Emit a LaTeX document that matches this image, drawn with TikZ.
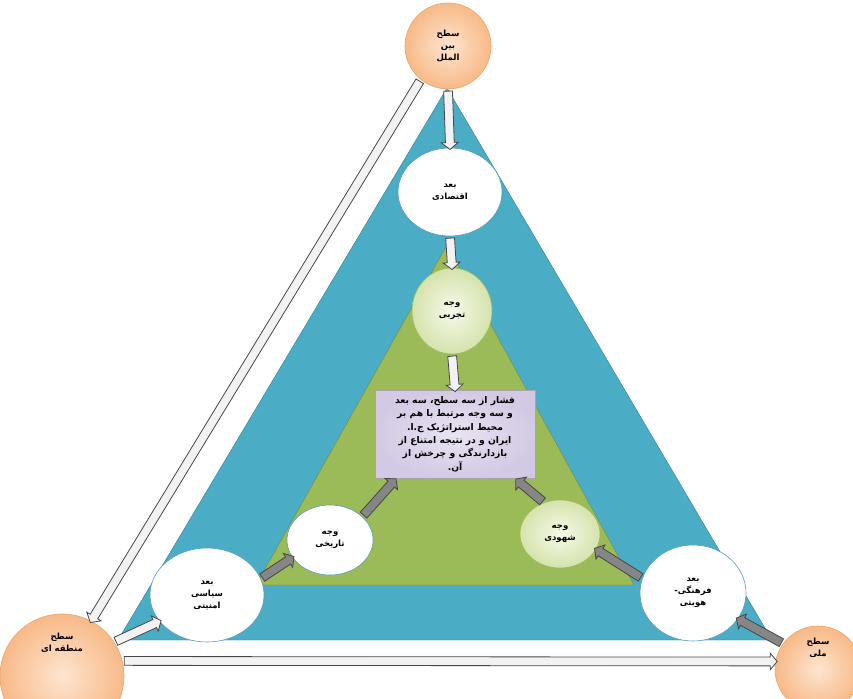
\documentclass[tikz,border=0pt]{standalone}
\usepackage{fontspec}
\newfontfamily\arabicfont[Script=Arabic]{DejaVu Sans}
\TeXXeTstate=1
\usetikzlibrary{shapes.geometric, shapes.arrows, calc}

\definecolor{bandblue}{HTML}{4BACC6}
\definecolor{bandblueline}{HTML}{2E7F95}
\definecolor{bandgreen}{HTML}{9BBB59}
\definecolor{bandgreenline}{HTML}{71893F}
\definecolor{tierin}{HTML}{FDE5D0}
\definecolor{tierout}{HTML}{F8B987}
\definecolor{tierline}{HTML}{E9A46A}
\definecolor{ovalline}{HTML}{5B9BB0}
\definecolor{greenin}{HTML}{F5F9E9}
\definecolor{greenout}{HTML}{D5E3AC}
\definecolor{boxin}{HTML}{E9E4F2}
\definecolor{boxout}{HTML}{D3C9E4}

\newcommand{\fa}[1]{\beginR #1\endR}
\newcommand{\fatarrow}[3][arrlight]{%
  \path let \p1=($(#3)-(#2)$), \n1={atan2(\y1,\x1)}, \n2={veclen(\x1,\y1)} in
    node[#1, rotate=\n1, minimum height=\n2] at ($(#2)!0.5!(#3)$) {};}

\begin{document}
\begin{tikzpicture}[x=1pt, y=-1pt]
\tikzstyle{every node}=[font=\arabicfont\bfseries\fontsize{8.5}{12}\selectfont, align=center, inner sep=0pt]
\tikzstyle{tiernode}=[circle, draw=tierline, inner color=tierin, outer color=tierout, semithick]
\tikzstyle{whiteoval}=[ellipse, draw=ovalline, fill=white, semithick]
\tikzstyle{greenoval}=[ellipse, draw=bandgreen, inner color=greenin, outer color=greenout, semithick]
\tikzstyle{resultbox}=[rectangle, draw=gray!70, inner color=boxin, outer color=boxout, minimum width=160pt, minimum height=88pt, font=\arabicfont\bfseries\fontsize{9.2}{13.4}\selectfont]
\tikzstyle{arrlight}=[single arrow, draw=gray!55!black, fill=gray!10, thick, inner xsep=0pt, inner ysep=4pt, single arrow head extend=4pt, single arrow tip angle=100, minimum width=16pt]
\tikzstyle{arrdark}=[arrlight, fill=gray!95]

\useasboundingbox (0,0) rectangle (853,698);
\clip (0,0) rectangle (853,698);

% the two bands
\draw[fill=bandblue, draw=bandblueline] (447,88) -- (118,640) -- (772,640) -- cycle;
\draw[fill=bandgreen, draw=bandgreenline] (447,245) -- (256,585) -- (634,585) -- cycle;

\node[tiernode, minimum size=86pt] at (448,46) (IL) {\fa{سطح}\\\fa{بین}\\\fa{الملل}};
\node[whiteoval, minimum width=104pt, minimum height=88pt] at (450,192) (ECO) {\fa{بعد}\\\fa{اقتصادی}};
\node[greenoval, minimum width=80pt, minimum height=86pt] at (452,311) (EXP) {\fa{وجه}\\\fa{تجربی}};
\node[resultbox] at (455,434) (BOX) {\fa{فشار از سه سطح، سه بعد}\\\fa{و سه وجه مرتبط با هم بر}\\\fa{محیط استراتژیک ج.ا.}\\\fa{ایران و در نتیجه امتناع از}\\\fa{بازدارندگی و چرخش از}\\\fa{آن.}};
\node[whiteoval, minimum width=86pt, minimum height=70pt] at (330,540) (HIS) {\fa{وجه}\\\fa{تاریخی}};
\node[greenoval, minimum width=80pt, minimum height=68pt] at (560,534) (INT) {\fa{وجه}\\\fa{شهودی}};
\node[whiteoval, minimum width=114pt, minimum height=94pt] at (207,595) (POL) {\fa{بعد}\\\fa{سیاسی}\\\fa{امنیتی}};
\node[whiteoval, minimum width=106pt, minimum height=96pt] at (693,593) (CUL) {\fa{بعد}\\\fa{فرهنگی-}\\\fa{هویتی}};
\node[tiernode, minimum size=124pt, label={[yshift=33pt]center:{\beginR سطح\endR\\\beginR منطقه ای\endR}}] at (62,676) (REG) {};
\node[tiernode, minimum size=86pt, label={[yshift=21pt]center:{\beginR سطح\endR\\\beginR ملی\endR}}] at (818,669) (NAT) {};

\coordinate (BOXL) at ($(BOX.south west)+(20,2)$);
\coordinate (BOXR) at ($(BOX.south east)+(-18,2)$);

\fatarrow{IL.south}{ECO.north}
\fatarrow{ECO.south}{EXP.north}
\fatarrow{EXP.south}{BOX.north}
\fatarrow[arrdark]{HIS.36}{BOXL}
\fatarrow[arrdark]{INT.117}{BOXR}
\fatarrow[arrdark]{POL.17}{HIS.205}
\fatarrow[arrdark]{CUL.164}{INT.337}
\fatarrow{REG.33}{POL.209}
\fatarrow[arrdark]{NAT.144}{CUL.330}
\fatarrow{IL.231}{REG.62}
\fatarrow{REG.14}{NAT.170}
\end{tikzpicture}
\end{document}
